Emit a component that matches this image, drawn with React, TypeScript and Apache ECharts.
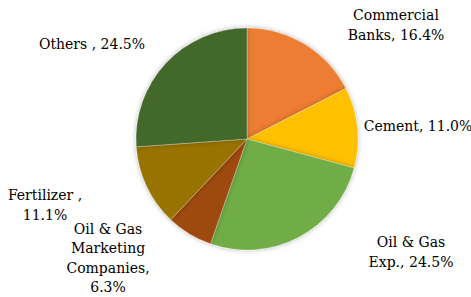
import React, { useEffect, useRef } from "react";
import * as echarts from "echarts";

const categories = [
  "Commercial\nBanks",
  "Cement",
  "Oil & Gas\nExp.",
  "Oil & Gas\nMarketing\nCompanies",
  "Fertilizer",
  "Others",
];
const separators = [", ", ", ", ", ", ",\n", " ,\n", " , "];
const values = [16.4, 11.0, 24.5, 6.3, 11.1, 24.5];
const colors = ["#ED7D31", "#FFC000", "#70AD47", "#9E480E", "#997300", "#43682B"];
const labelPos: [number, number][] = [
  [396, 25],
  [418, 126],
  [411, 252],
  [108, 258],
  [45, 205],
  [92, 44],
];

export default function App() {
  const ref = useRef<HTMLDivElement>(null);
  useEffect(() => {
    if (!ref.current) return;
    const chart = echarts.init(ref.current, null, { renderer: "svg" });
    chart.setOption({
      animation: false,
      backgroundColor: "#ffffff",
      series: [
        {
          type: "pie",
          center: [247, 139],
          radius: 111,
          startAngle: 90,
          clockwise: true,
          itemStyle: {
            borderColor: "rgba(255,255,255,0.5)",
            borderWidth: 0.5,
            shadowBlur: 5,
            shadowColor: "rgba(0,0,0,0.3)",
          },
          label: {
            show: true,
            position: "outside",
            overflow: "none",
            color: "#000",
            fontFamily: "DejaVu Serif",
            fontSize: 14,
            lineHeight: 19.5,
            align: "center",
            formatter: (p: any) =>
              p.name + separators[p.dataIndex] + p.value.toFixed(1) + "%",
          },
          labelLine: { show: false },
          labelLayout: (p: any) => ({
            x: labelPos[p.dataIndex][0],
            y: labelPos[p.dataIndex][1],
            align: "center",
            verticalAlign: "middle",
          }),
          data: categories.map((c, i) => ({
            name: c,
            value: values[i],
            itemStyle: { color: colors[i] },
          })),
        },
      ],
    });
    return () => chart.dispose();
  }, []);
  return (
    <div
      ref={ref}
      style={{ position: "fixed", left: 0, top: 0, width: 471, height: 297 }}
    />
  );
}
